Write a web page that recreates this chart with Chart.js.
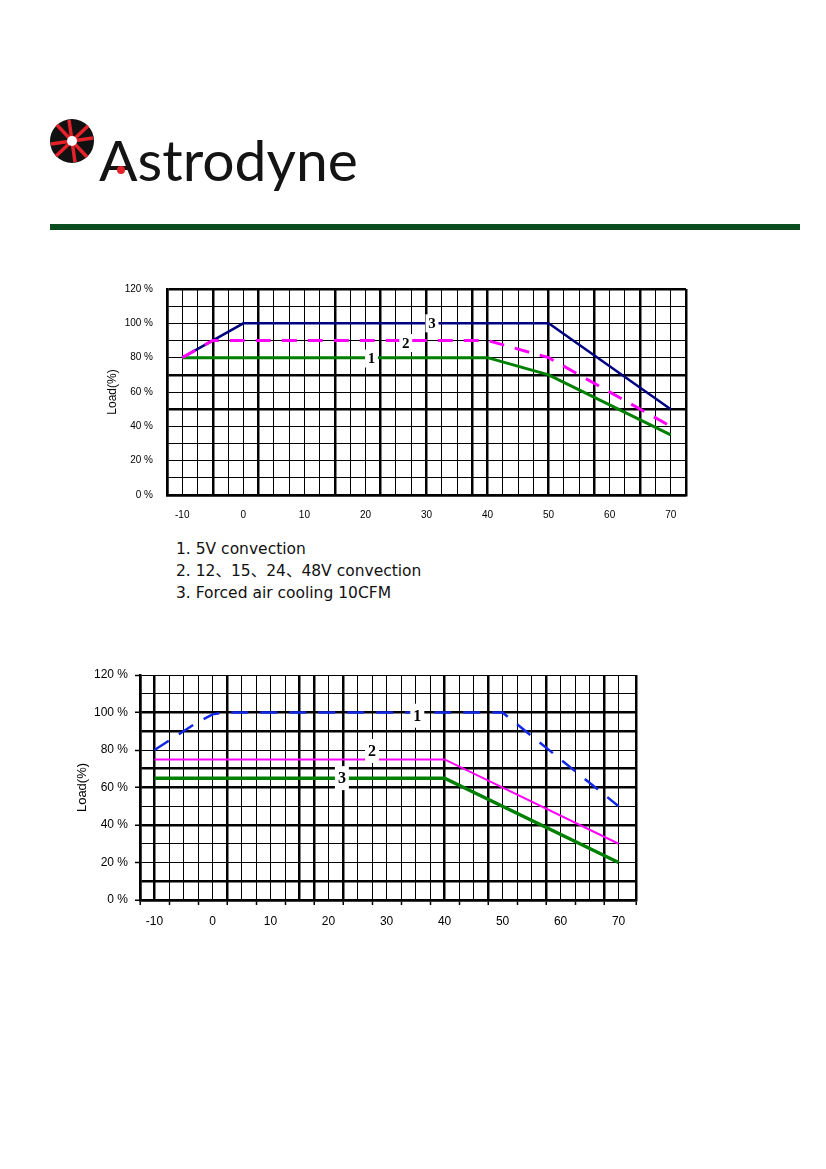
<!DOCTYPE html>
<html>
<head>
<meta charset="UTF-8">
<title>Astrodyne derating curves</title>
<script src="https://cdn.jsdelivr.net/npm/chart.js@4.4.0/dist/chart.umd.min.js"></script>
<style>
  body { margin: 0; background: #fff; width: 826px; height: 1169px; position: relative; overflow: hidden; }
  .abs { position: absolute; }
  #brand { left: 99px; top: 121px; font-family: Lato, "Open Sans", sans-serif; font-size: 57px; line-height: 76px; color: #141414; }
  #dot { left: 117px; top: 166px; width: 8px; height: 8px; border-radius: 50%; background: #e5212a; }
  #rule { left: 50px; top: 224px; width: 750px; height: 6px; background: #0b4d1f; }
  #notes { left: 176px; top: 538px; font-family: "DejaVu Sans", "Noto Sans CJK SC", sans-serif; font-size: 15.5px; line-height: 22px; color: #111; }
</style>
</head>
<body>
<svg class="abs" style="left:48px;top:117px" width="48" height="48">
  <circle cx="24" cy="24" r="22" fill="#111"/>
  <g stroke="#e5212a" stroke-width="3.5">
    <line x1="24" y1="24" x2="21" y2="3"/>
    <line x1="24" y1="24" x2="40" y2="9"/>
    <line x1="24" y1="24" x2="45" y2="21"/>
    <line x1="24" y1="24" x2="39" y2="40"/>
    <line x1="24" y1="24" x2="27" y2="45"/>
    <line x1="24" y1="24" x2="8" y2="39"/>
    <line x1="24" y1="24" x2="3" y2="27"/>
    <line x1="24" y1="24" x2="9" y2="8"/>
  </g>
  <circle cx="24" cy="24" r="5" fill="#fff"/>
</svg>
<div id="brand" class="abs">Astrodyne</div>
<div id="dot" class="abs"></div>
<div id="rule" class="abs"></div>

<canvas id="chart1" class="abs" width="610" height="255" style="left:90px;top:275px"></canvas>
<div id="notes" class="abs">
  1. 5V convection<br>
  2. 12、15、24、48V convection<br>
  3. Forced air cooling 10CFM
</div>
<canvas id="chart2" class="abs" width="590" height="270" style="left:60px;top:665px"></canvas>

<script>
// ---- chart 1 data (ambient temperature vs load) ----
const c1Temp5V = [-10, 40, 50, 70];
const c1Load5V = [80, 80, 70, 35];
const c1Temp12V = [-10, -5, 40, 50, 70];
const c1Load12V = [80, 90, 90, 80, 40];
const c1TempForced = [-10, 0, 50, 70];
const c1LoadForced = [80, 100, 100, 50];

// ---- chart 2 data ----
const c2Temp1 = [-10, -3, 0, 2, 50, 70];
const c2Load1 = [80, 94, 99, 100, 100, 50];
const c2Temp2 = [-10, 40, 70];
const c2Load2 = [75, 75, 30];
const c2Temp3 = [-10, 40, 70];
const c2Load3 = [65, 65, 20];

// ---- tick labels ----
const xTickValues = [-10, 0, 10, 20, 30, 40, 50, 60, 70];
const xTickLabels = ['-10', '0', '10', '20', '30', '40', '50', '60', '70'];
const yTickValues = [0, 20, 40, 60, 80, 100, 120];
const yTickLabels = ['0 %', '20 %', '40 %', '60 %', '80 %', '100 %', '120 %'];

// curve number tags
const c1TagText = ['1', '2', '3'];
const c1TagX = [21, 26.6, 30.9];
const c1TagY = [79.5, 88.5, 100];
const c2TagText = ['1', '2', '3'];
const c2TagX = [35.3, 27.5, 22.3];
const c2TagY = [98.3, 79.5, 65];

Chart.defaults.font.family = '"Liberation Sans", Arial, sans-serif';
Chart.defaults.color = '#000';

const pts = (xs, ys) => xs.map((v, i) => ({ x: v, y: ys[i] }));

// grid positions
const c1GridX = [];
for (let v = -12.5; v <= 72.5; v += 2.5) c1GridX.push(v);
const c2GridX = [-12.5];
for (let v = -10; v <= 70; v += 2.5) c2GridX.push(v);
c2GridX.push(73);

const c1ThickX = [-12.5, -5, 2.5, 15, 22.5, 30, 37.5, 40, 50, 57.5, 65, 72.5];
const c1ThickY = [0, 50, 70, 120];
const c2ThickX = [-12.5, -10, 2.5, 15, 17.5, 22.5, 40, 47.5, 57.5, 67.5, 73];
const c2ThickY = [0, 10, 40, 60, 70, 90, 100];

function xLabel(value) {
  const i = xTickValues.indexOf(value);
  return i >= 0 ? xTickLabels[i] : '';
}
function yLabel(value) {
  const i = yTickValues.indexOf(value);
  return i >= 0 ? yTickLabels[i] : '';
}

function makeTags(id, text, xs, ys, font, w, h) {
  return {
    id: id,
    afterDatasetsDraw(chart) {
      const { ctx, scales: { x, y } } = chart;
      ctx.save();
      ctx.font = font;
      ctx.textAlign = 'center';
      ctx.textBaseline = 'middle';
      text.forEach((t, i) => {
        const px = x.getPixelForValue(xs[i]);
        const py = y.getPixelForValue(ys[i]);
        ctx.fillStyle = '#fff';
        ctx.fillRect(px - w / 2, py - h / 2, w, h);
        ctx.fillStyle = '#000';
        ctx.fillText(t, px, py + 1);
      });
      ctx.restore();
    }
  };
}

// chart 1
new Chart(document.getElementById('chart1'), {
  type: 'line',
  data: {
    datasets: [
      { data: pts(c1Temp12V, c1Load12V), borderColor: '#ff00ff', borderWidth: 3, borderDash: [15, 11] },
      { data: pts(c1Temp5V, c1Load5V), borderColor: '#008000', borderWidth: 3 },
      { data: pts(c1TempForced, c1LoadForced), borderColor: '#000080', borderWidth: 2.5 }
    ]
  },
  options: {
    responsive: false,
    animation: false,
    devicePixelRatio: 1,
    layout: { padding: { top: 14, right: 14, left: 0, bottom: 0 } },
    elements: { point: { radius: 0 }, line: { tension: 0 } },
    plugins: { legend: { display: false }, tooltip: { enabled: false } },
    scales: {
      x: {
        type: 'linear', min: -12.5, max: 72.5,
        afterBuildTicks: s => { s.ticks = c1GridX.map(v => ({ value: v })); },
        afterFit: s => { s.height = 35; },
        grid: { color: '#000', drawTicks: false, lineWidth: c => c1ThickX.includes(c.tick.value) ? 2.5 : 1 },
        border: { color: '#000', width: 2.5 },
        ticks: { autoSkip: false, maxRotation: 0, padding: 14, font: { size: 10 }, callback: xLabel }
      },
      y: {
        min: 0, max: 120,
        ticks: { stepSize: 10, padding: 14, font: { size: 10 }, callback: yLabel },
        afterFit: s => { s.width = 77; s.paddingTop = 0; s.paddingBottom = 0; },
        grid: { color: '#000', drawTicks: false, lineWidth: c => c1ThickY.includes(c.tick.value) ? 2.5 : 1 },
        border: { color: '#000', width: 2.5 },
        title: { display: true, text: 'Load(%)', font: { size: 12 }, padding: { top: 15, bottom: 0 } }
      }
    }
  },
  plugins: [makeTags('tags1', c1TagText, c1TagX, c1TagY, 'bold 15px "Liberation Serif", serif', 13, 18)]
});

// chart 2
new Chart(document.getElementById('chart2'), {
  type: 'line',
  data: {
    datasets: [
      { data: pts(c2Temp1, c2Load1), borderColor: '#1028e8', borderWidth: 2.5, borderDash: [17, 12] },
      { data: pts(c2Temp2, c2Load2), borderColor: '#ff00ff', borderWidth: 2 },
      { data: pts(c2Temp3, c2Load3), borderColor: '#008000', borderWidth: 3.5 }
    ]
  },
  options: {
    responsive: false,
    animation: false,
    devicePixelRatio: 1,
    layout: { padding: { top: 10, right: 14, left: 0, bottom: 0 } },
    elements: { point: { radius: 0 }, line: { tension: 0 } },
    plugins: { legend: { display: false }, tooltip: { enabled: false } },
    scales: {
      x: {
        type: 'linear', min: -12.5, max: 73,
        afterBuildTicks: s => { s.ticks = c2GridX.map(v => ({ value: v })); },
        afterFit: s => { s.height = 35; },
        grid: {
          color: '#000', tickLength: 5, tickWidth: 1.5,
          tickColor: c => ((c.tick.value + 12.5) % 5 === 0 || c.tick.value === 73) ? '#000' : 'rgba(0,0,0,0)',
          lineWidth: c => c2ThickX.includes(c.tick.value) ? 2.5 : 1
        },
        border: { color: '#000', width: 2.5 },
        ticks: { autoSkip: false, maxRotation: 0, padding: 9, font: { size: 12 }, callback: xLabel }
      },
      y: {
        min: 0, max: 120,
        ticks: { stepSize: 10, padding: 7, font: { size: 12 }, callback: yLabel },
        afterFit: s => { s.width = 80; s.paddingTop = 0; s.paddingBottom = 0; },
        grid: {
          color: '#000', tickLength: 5, tickWidth: 1.5,
          tickColor: c => c.tick.value % 20 === 0 ? '#000' : 'rgba(0,0,0,0)',
          lineWidth: c => c2ThickY.includes(c.tick.value) ? 2.5 : 1
        },
        border: { color: '#000', width: 2.5 },
        title: { display: true, text: 'Load(%)', font: { size: 13 }, padding: { top: 15, bottom: 0 } }
      }
    }
  },
  plugins: [makeTags('tags2', c2TagText, c2TagX, c2TagY, 'bold 16px "Liberation Serif", serif', 14, 24)]
});
</script>
</body>
</html>
